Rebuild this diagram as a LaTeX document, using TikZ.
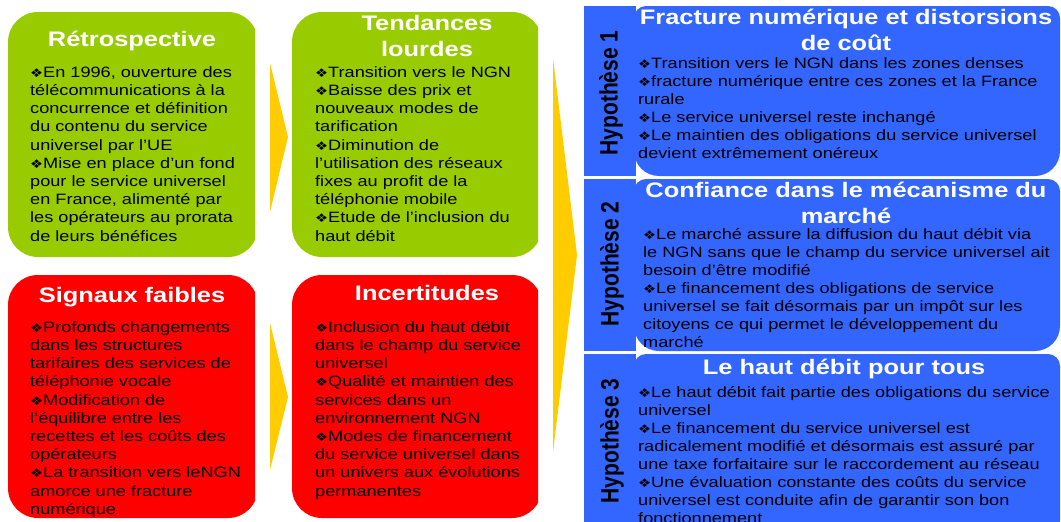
\documentclass[tikz,border=0pt]{standalone}
\usepackage{graphicx}
\usepackage{fontspec}
\setmainfont[FakeStretch=1.21]{Liberation Sans}
\newfontfamily\hypfont{Liberation Sans}
\newfontfamily\bulletfont[FakeStretch=1.21]{DejaVu Sans}
\definecolor{boxgreen}{RGB}{153,204,0}
\definecolor{boxred}{RGB}{255,0,0}
\definecolor{arrowyellow}{RGB}{255,204,0}
\definecolor{boxblue}{RGB}{51,102,255}
\newcommand{\diam}{{\bulletfont\fontsize{12}{12}\selectfont ❖}}
\newcommand{\firstline}{\rule{0pt}{14pt}}
\newcommand{\titlestrut}{\rule{0pt}{20pt}}
\newcommand{\hyp}[1]{\scalebox{1}[1.2]{Hypothèse #1}}
\tikzset{
  bodytext/.style={anchor=north west, inner sep=0pt, align=left, font=\fontsize{15}{18.2}\selectfont},
  hyptext/.style={bodytext, font=\fontsize{15}{18}\selectfont},
  titletext/.style={anchor=north, inner sep=0pt, align=center, text=white, font=\fontsize{21}{26.5}\selectfont\bfseries},
  hyplabel/.style={rotate=90, inner sep=0pt, font=\hypfont\fontsize{21}{21}\selectfont\bfseries}
}

\begin{document}
\begin{tikzpicture}[x=1pt, y=-1pt]
\useasboundingbox (0,0) rectangle (1061,522);
\clip (0,0) rectangle (1061,522);
\begin{scope}
\clip (0,0) rectangle (255,522);
\fill [boxgreen, rounded corners=30] (8,12) rectangle (258,257);
\fill [boxred, rounded corners=30] (8,275) rectangle (258,518);
\end{scope}
\begin{scope}
\clip (0,0) rectangle (538,522);
\fill [boxgreen, rounded corners=30] (292,12) rectangle (542,257);
\fill [boxred, rounded corners=30] (292,275) rectangle (542,518);
\end{scope}
\fill [arrowyellow] (270,63) -- (288,137) -- (270,212) -- cycle;
\fill [arrowyellow] (270,323) -- (288,397) -- (270,470) -- cycle;
\fill [arrowyellow] (553,58) -- (577,255) -- (553,452) -- cycle;
\fill [boxblue] (584,6) rectangle (636,176);
\fill [boxblue] (584,179) rectangle (636,351);
\fill [boxblue] (584,354) rectangle (636,545);
\fill [boxblue, rounded corners=12] (634,100) -- (634,6) -- (1060,6) [rounded corners=25] -- (1060,176) -- (634,176) [rounded corners=12] -- cycle;
\fill [boxblue, rounded corners=12] (634,260) -- (634,179) -- (1060,179) [rounded corners=25] -- (1060,351) -- (634,351) [rounded corners=12] -- cycle;
\fill [boxblue, rounded corners=12] (634,450) -- (634,354) -- (1060,354) [rounded corners=25] -- (1060,545) -- (634,545) [rounded corners=12] -- cycle;

\node [titletext] (retrotitle) at (132,26) {\titlestrut Rétrospective};
\node [bodytext] (retro) at (30,63) {\firstline\diam En 1996, ouverture des\\télécommunications à la\\concurrence et définition\\du contenu du service\\universel par l’UE\\\diam Mise en place d’un fond\\pour le service universel\\en France, alimenté par\\les opérateurs au prorata\\de leurs bénéfices};
\node [titletext] (tendtitle) at (427,10) {\titlestrut Tendances\\lourdes};
\node [bodytext] (tend) at (315,63) {\firstline\diam Transition vers le NGN\\\diam Baisse des prix et\\nouveaux modes de\\tarification\\\diam Diminution de\\l’utilisation des réseaux\\fixes au profit de la\\téléphonie mobile\\\diam Etude de l’inclusion du\\haut débit};
\node [titletext] (signtitle) at (132,282) {\titlestrut Signaux faibles};
\node [bodytext] (sign) at (30,318) {\firstline\diam Profonds changements\\dans les structures\\tarifaires des services de\\téléphonie vocale\\\diam Modification de\\l’équilibre entre les\\recettes et les coûts des\\opérateurs\\\diam La transition vers leNGN\\amorce une fracture\\numérique};
\node [titletext] (incertitle) at (427,280) {\titlestrut Incertitudes};
\node [bodytext] (incer) at (315,318) {\firstline\diam Inclusion du haut débit\\dans le champ du service\\universel\\\diam Qualité et maintien des\\services dans un\\environnement NGN\\\diam Modes de financement\\du service universel dans\\un univers aux évolutions\\permanentes};

\node [hyplabel] (hyplabela) at (611,93) {\hyp{1}};
\node [hyplabel] (hyplabelb) at (612,264) {\hyp{2}};
\node [hyplabel] (hyplabelc) at (612,441) {\hyp{3}};
\node [titletext] (hyptitlea) at (846,4) {\titlestrut Fracture numérique et distorsions\\de coût};
\node [hyptext] (hypa) at (638,54) {\firstline\diam Transition vers le NGN dans les zones denses\\\diam fracture numérique entre ces zones et la France\\rurale\\\diam Le service universel reste inchangé\\\diam Le maintien des obligations du service universel\\devient extrêmement onéreux};
\node [titletext] (hyptitleb) at (846,177) {\titlestrut Confiance dans le mécanisme du\\marché};
\node [hyptext] (hypb) at (643,225) {\firstline\diam Le marché assure la diffusion du haut débit via\\le NGN sans que le champ du service universel ait\\besoin d’être modifié\\\diam Le financement des obligations de service\\universel se fait désormais par un impôt sur les\\citoyens ce qui permet le développement du\\marché};
\node [titletext] (hyptitlec) at (844,354) {\titlestrut Le haut débit pour tous};
\node [hyptext] (hypc) at (638,383) {\firstline\diam Le haut débit fait partie des obligations du service\\universel\\\diam Le financement du service universel est\\radicalement modifié et désormais est assuré par\\une taxe forfaitaire sur le raccordement au réseau\\\diam Une évaluation constante des coûts du service\\universel est conduite afin de garantir son bon\\fonctionnement};
\end{tikzpicture}
\end{document}
